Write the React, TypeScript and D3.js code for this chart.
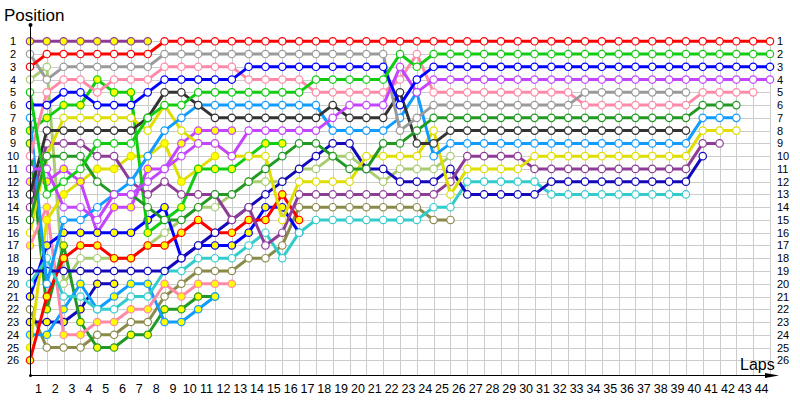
import React from "react";
import * as d3 from "d3";

const LAST_LAP = 44;
const MAX_POS = 26;
const LAP_LABELS = d3.range(1, 45).map(String);
const POS_LABELS = d3.range(1, 27).map(String);

// positions per lap, starting with lap 0 (grid)
const redH = [3, 2, 2, 2, 2, 2, 2, 2, ...Array(37).fill(1)];
const greenH = [5, 13, 12, 11, 9, 9, 9, 7, 6, 6, 5, 5, 5, 5, 5, 5, 5, 4, 4, 4, 4, 4, 2, 3, ...Array(21).fill(2)];
const blueH = [6, 6, 5, 5, 6, 6, 6, 5, 4, 4, 4, 4, 4, ...Array(9).fill(3), 6, 4, ...Array(21).fill(3)];
const violetH = [11, 11, 14, 14, 15, 13, 13, 12, 11, 10, 9, 9, 10, 8, 8, 8, 8, 8, 7, 6, 6, 6, 3, 5, ...Array(21).fill(4)];
const grayH = [2, 4, 3, 3, 3, 3, 3, 3, ...Array(14).fill(2), 8, 7, ...Array(9).fill(6), ...Array(7).fill(5)];
const pinkH = [10, 5, 4, 4, 5, 4, 4, 4, 3, 3, 3, 3, 3, 4, 4, 4, 4, 5, 5, 5, 5, 5, 4, 2, ...Array(9).fill(5), ...Array(7).fill(6), 5, 5, 5, 5];
const darkgreenH = [15, 10, 10, 10, 12, 13, 13, 14, 15, 15, 14, 13, 13, 12, 11, 10, 9, 9, 10, 11, 11, 9, 9, 8, ...Array(16).fill(7), 6, 6, 6];
const darkgrayH = [13, 8, 8, 8, 8, 8, 8, 7, 5, 5, 6, 7, 7, 7, 7, 7, 7, 7, 6, 7, 7, 7, 5, 9, 9, ...Array(15).fill(8)];
const lightblueH = [7, 20, 15, 15, 14, 13, 12, 10, 8, 7, ...Array(8).fill(6), 8, 8, 8, 8, 7, 5, 10, ...Array(15).fill(9), 7, 7, 7];
const yellowH = [16, 10, 7, 7, 7, 7, 7, 8, 6, 8, 9, 9, 10, 10, 10, 15, 12, 12, 12, 12, 10, 10, 10, 10, 8, 13, 11, 11, 11, 11, ...Array(10).fill(10), 8, 8, 8];
const darkpurpleH = [14, 9, 9, 9, 10, 10, 12, 13, 12, 13, 13, 13, 15, 14, 17, 16, 13, 13, 13, 13, 13, 13, 13, 13, 13, 12, 10, 10, 10, 10, ...Array(10).fill(11), 9, 9];
const navyH = [19, 19, 19, 19, 19, 19, 19, 19, 19, 18, 17, 16, 15, 14, 13, 12, 11, 10, 9, 9, 11, 11, 12, 12, 12, 11, 13, 13, 13, 13, 13, ...Array(9).fill(12), 10];
const tealH = [20, 18, 21, 21, 22, 22, 21, 21, 19, 19, 18, 18, 18, 17, 16, 18, 16, 15, 15, 15, 15, 15, 15, 15, 14, 14, 12, 12, 12, 12, 12, ...Array(9).fill(13)];
const oliveH = [22, 25, 25, 25, 24, 24, 23, 23, 21, 20, 19, 19, 19, 18, 18, 17, 14, 14, 14, 14, 14, 14, 14, 14, 15, 15];
const lightgreenH = [4, 3, 20, 18, 18, 18, 18, 17, 16, 15, 14, 14, 13, 12, 12, 12, 11, 11, 10, 10, 11, 12, 11, 11, 11, 10];
const purpleF = [1, 1, 1, 1, 1, 1, 1, 1];
const redF = [26, 21, 18, 17, 17, 18, 18, 17, 17, 16, 15, 16, 16, 15, 15, 13, 15];
const blueF = [21, 17, 16, 16, 16, 16, 16, 15, 14, 18, 17, 17, 17, 16, 14, 14, 16];
const lightblueF = [24, 24, 22, 20, 22, 21, 20, 20, 23, 23, 22, 21];
const pinkF = [17, 14, 24, 24, 23, 23, 22, 22, 20, 21, 20, 20, 20];
const darkgreenF = [9, 22, 17, 23, 25, 25, 24, 24, 22, 22, 21, 21];
const violetF = [12, 12, 11, 12, 16, 14, 14, 11, 11, 9, 8, 8, 8];
const yellowF = [25, 15, 13, 12, 11, 11, 10, 10, 9, 12, 11, 10];
const navyF = [23, 23, 23, 22, 20, 20];
const greenF = [8, 7, 6, 6, 4, 5, 5, 16, 15, 14, 11, 11, 11, 10, 9, 9];

const C = {
  red: "#ff0000",
  green: "#11cc11",
  blue: "#0000ff",
  violet: "#c444ff",
  gray: "#9a9a9a",
  pink: "#ff8aa8",
  darkgreen: "#229922",
  darkgray: "#333333",
  lightblue: "#119cff",
  yellow: "#dede00",
  darkpurple: "#8e3d97",
  navy: "#1408bb",
  teal: "#33cccc",
  olive: "#8a8a4a",
  lightgreen: "#a8cc70",
};

type S = { color: string; filled: boolean; data: number[] };
// drawn in this order (last on top)
const SERIES: S[] = [
  { color: C.lightgreen, filled: false, data: lightgreenH },
  { color: C.olive, filled: false, data: oliveH },
  { color: C.navy, filled: true, data: navyF },
  { color: C.darkgreen, filled: true, data: darkgreenF },
  { color: C.lightblue, filled: true, data: lightblueF },
  { color: C.pink, filled: true, data: pinkF },
  { color: C.yellow, filled: true, data: yellowF },
  { color: C.violet, filled: true, data: violetF },
  { color: C.blue, filled: true, data: blueF },
  { color: C.red, filled: true, data: redF },
  { color: C.green, filled: true, data: greenF },
  { color: C.teal, filled: false, data: tealH },
  { color: C.navy, filled: false, data: navyH },
  { color: C.darkpurple, filled: false, data: darkpurpleH },
  { color: C.yellow, filled: false, data: yellowH },
  { color: C.lightblue, filled: false, data: lightblueH },
  { color: C.darkgray, filled: false, data: darkgrayH },
  { color: C.darkgreen, filled: false, data: darkgreenH },
  { color: C.pink, filled: false, data: pinkH },
  { color: C.gray, filled: false, data: grayH },
  { color: C.violet, filled: false, data: violetH },
  { color: C.blue, filled: false, data: blueH },
  { color: C.green, filled: false, data: greenH },
  { color: C.red, filled: false, data: redH },
  { color: C.darkpurple, filled: true, data: purpleF },
];

export default function App() {
  const W = 800;
  const H = 400;
  const x = d3.scaleLinear().domain([0, LAST_LAP]).range([30, 770]);
  const y = d3.scaleLinear().domain([1, MAX_POS]).range([41.3, 360.3]);
  const axisY = 375.5;
  const line = d3
    .line<number>()
    .x((_, i) => x(i))
    .y((d) => y(d));
  const font = "'Liberation Sans', Arial, sans-serif";
  const laps = d3.range(0, LAST_LAP + 1);
  const positions = d3.range(1, MAX_POS + 1);
  return (
    <svg width={W} height={H} style={{ position: "absolute", left: 0, top: 0, background: "#fff" }}>
      <rect width={W} height={H} fill="#fff" />
      <g stroke="#cccccc" strokeWidth={1}>
        {laps.map((l) => (
          <line key={"v" + l} x1={Math.round(x(l)) + 0.5} x2={Math.round(x(l)) + 0.5} y1={y(1)} y2={axisY} />
        ))}
        {positions.map((p) => (
          <line key={"h" + p} x1={x(0)} x2={x(LAST_LAP)} y1={Math.round(y(p)) + 0.5} y2={Math.round(y(p)) + 0.5} />
        ))}
      </g>
      {SERIES.map((s, si) => (
        <g key={si}>
          <path d={line(s.data) || ""} fill="none" stroke={s.color} strokeWidth={3} strokeLinejoin="round" />
          {s.data.map((d, i) => (
            <circle key={i} cx={x(i)} cy={y(d)} r={3.7} fill={s.filled ? "#ffff00" : "#ffffff"} stroke={s.color} strokeWidth={1.2} />
          ))}
        </g>
      ))}
      {/* axes */}
      <line x1={30.5} x2={30.5} y1={25} y2={axisY} stroke="#000" strokeWidth={1} />
      <circle cx={30.5} cy={25} r={2} fill="#000" />
      <circle cx={30.5} cy={axisY} r={1.5} fill="#000" />
      <line x1={30} x2={772} y1={axisY} y2={axisY} stroke="#000" strokeWidth={1} />
      <path d={`M765,${axisY - 2.5} L779,${axisY} L765,${axisY + 2.5} Z`} fill="#000" />
      <text x={4} y={21} fontFamily={font} fontSize={17} fill="#000">Position</text>
      <text x={740} y={370} fontFamily={font} fontSize={16} fill="#000">Laps</text>
      {POS_LABELS.map((t, i) => (
        <text key={"l" + t} x={13} y={y(i + 1) + 4} textAnchor="middle" fontFamily={font} fontSize={11} fill="#000">{t}</text>
      ))}
      {POS_LABELS.map((t, i) => (
        <text key={"r" + t} x={777} y={y(i + 1) + 4} textAnchor="start" fontFamily={font} fontSize={11} fill="#000">{t}</text>
      ))}
      {LAP_LABELS.map((t, i) => (
        <text key={"b" + t} x={(x(i) + x(i + 1)) / 2} y={393} textAnchor="middle" fontFamily={font} fontSize={12.5} fill="#000">{t}</text>
      ))}
    </svg>
  );
}
